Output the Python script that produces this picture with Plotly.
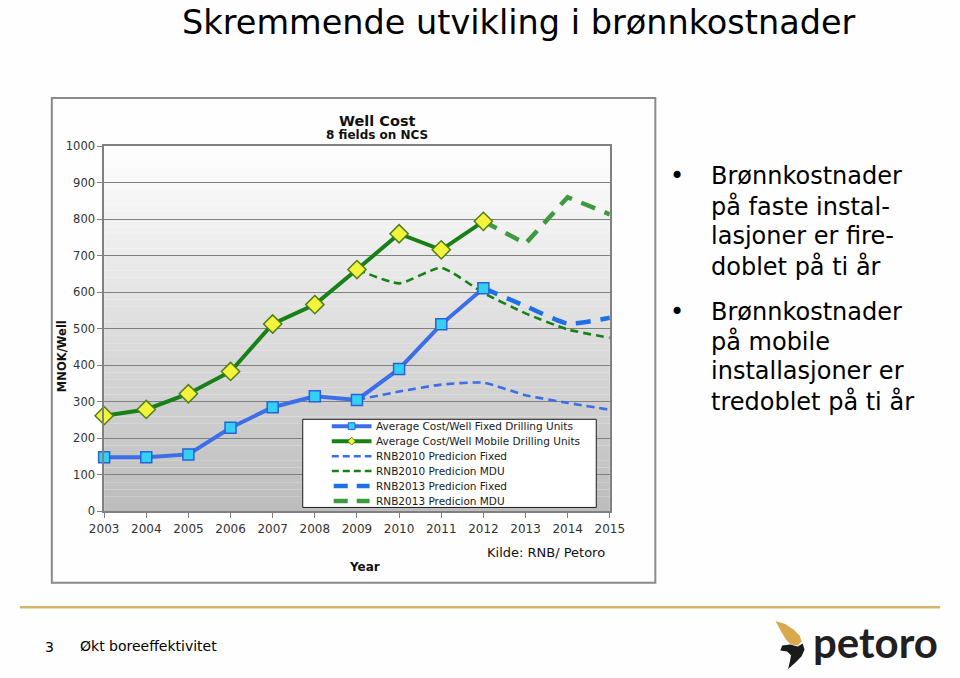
import plotly.graph_objects as go

# ---------------- data ----------------
years_actual = [2003, 2004, 2005, 2006, 2007, 2008, 2009, 2010, 2011, 2012]
fixed_actual = [148, 148, 156, 229, 285, 315, 305, 390, 512, 611]
mobile_actual = [262, 279, 322, 383, 513, 566, 662, 760, 716, 794]

years_rnb2010 = [2009, 2010, 2011, 2012, 2013, 2014, 2015]
rnb2010_fixed = [305, 328, 347, 352, 318, 297, 278]
rnb2010_mdu = [662, 624, 667, 598, 542, 498, 475]

years_rnb2013 = [2012, 2013, 2014, 2015]
rnb2013_fixed = [611, 562, 514, 530]
rnb2013_mdu = [794, 733, 860, 813]

x_ticks = list(range(2003, 2016))
y_ticks = list(range(0, 1001, 100))

series_names = [
    "Average Cost/Well Fixed Drilling Units",
    "Average Cost/Well Mobile Drilling Units",
    "RNB2010 Predicion Fixed",
    "RNB2010 Predicion MDU",
    "RNB2013 Predicion Fixed",
    "RNB2013 Predicion MDU",
]

bullets = [
    ["Brønnkostnader", "på faste instal-", "lasjoner er fire-", "doblet på ti år"],
    ["Brønnkostnader", "på mobile", "installasjoner er", "tredoblet på ti år"],
]

W, H = 960, 678
FONT = "DejaVu Sans, Verdana, sans-serif"

BLUE = "#3b6ee8"
BLUE2 = "#1f6fe6"
GREEN = "#178017"
GREEN2 = "#3d9a3d"
CYAN = "#33d0f5"
YELLOW = "#f4f43c"
BG = "#fefefe"


def px(x):
    return x / W


def py(y):
    return 1 - y / H


fig = go.Figure()

# prediction lines (behind actuals)
fig.add_trace(go.Scatter(x=years_rnb2010, y=rnb2010_fixed, mode="lines", name=series_names[2],
                         line=dict(color=BLUE, width=2.6, dash="8px,5px", shape="spline", smoothing=0.6),
                         cliponaxis=False, showlegend=False))
fig.add_trace(go.Scatter(x=years_rnb2010, y=rnb2010_mdu, mode="lines", name=series_names[3],
                         line=dict(color=GREEN, width=2.6, dash="8px,5px", shape="spline", smoothing=0.5),
                         cliponaxis=False, showlegend=False))
fig.add_trace(go.Scatter(x=years_rnb2013, y=rnb2013_fixed, mode="lines", name=series_names[4],
                         line=dict(color=BLUE2, width=4.5, dash="15px,10px", shape="spline", smoothing=0.5),
                         cliponaxis=False, showlegend=False))
fig.add_trace(go.Scatter(x=years_rnb2013, y=rnb2013_mdu, mode="lines", name=series_names[5],
                         line=dict(color=GREEN2, width=4.5, dash="15px,10px"),
                         cliponaxis=False, showlegend=False))

# actuals
fig.add_trace(go.Scatter(x=years_actual, y=fixed_actual, mode="lines+markers", name=series_names[0],
                         line=dict(color=BLUE, width=4),
                         marker=dict(symbol="square", size=11, color=CYAN, line=dict(color="#2a62d8", width=1.5)),
                         cliponaxis=False, showlegend=False))
fig.add_trace(go.Scatter(x=years_actual, y=mobile_actual, mode="lines+markers", name=series_names[1],
                         line=dict(color=GREEN, width=4),
                         marker=dict(symbol="diamond", size=14, color=YELLOW, line=dict(color="#4f7f1a", width=1.5)),
                         cliponaxis=False, showlegend=False))

shapes = []

# gradient plot background
n = 50
for i in range(n):
    v0 = 1000 * i / n
    v1 = 1000 * (i + 1) / n
    t = 1 - (v0 + v1) / 2 / 1000
    g = int(round(255 - (255 - 188) * t))
    shapes.append(dict(type="rect", xref="x domain", yref="y", x0=0, x1=1, y0=v0, y1=v1,
                       fillcolor=f"rgb({g},{g},{g})", line=dict(width=0), layer="below"))

# chart frame
shapes.append(dict(type="rect", xref="paper", yref="paper", x0=px(38), x1=px(661), y0=py(588), y1=py(93),
                   line=dict(color="#8a8a8a", width=2), fillcolor="rgba(0,0,0,0)", layer="below"))

# footer line
shapes.append(dict(type="line", xref="paper", yref="paper", x0=px(5), x1=px(955), y0=py(613), y1=py(613),
                   line=dict(color="#d6b46c", width=2.5)))

# legend box
lx0, lx1, ly0, ly1 = 297, 600, 421, 511
shapes.append(dict(type="rect", xref="paper", yref="paper", x0=px(lx0), x1=px(lx1), y0=py(ly1), y1=py(ly0),
                   line=dict(color="#1a1a1a", width=1), fillcolor="white", layer="above"))
rows = [428, 443.3, 458.6, 473.9, 489.2, 504.5]
sx0, sx1 = 327, 368
leg_styles = [
    dict(color=BLUE, width=4, dash="solid"),
    dict(color=GREEN, width=4, dash="solid"),
    dict(color=BLUE, width=2.5, dash="7px,4px"),
    dict(color=GREEN, width=2.5, dash="7px,4px"),
    dict(color=BLUE2, width=4.5, dash="14px,9px"),
    dict(color=GREEN2, width=4.5, dash="14px,9px"),
]
for r, st in zip(rows, leg_styles):
    xa, xb = (sx0, sx1) if st["width"] < 4.5 else (329, 366)
    shapes.append(dict(type="line", xref="paper", yref="paper", x0=px(xa), x1=px(xb), y0=py(r), y1=py(r),
                       line=st, layer="above"))
# legend marker glyphs
cx = 347.5
shapes.append(dict(type="rect", xref="paper", yref="paper", x0=px(cx - 3.5), x1=px(cx + 3.5),
                   y0=py(rows[0] + 3.5), y1=py(rows[0] - 3.5), fillcolor=CYAN,
                   line=dict(color="#2a62d8", width=1), layer="above"))
d = 4
dpath = "M {},{} L {},{} L {},{} L {},{} Z".format(
    px(cx), py(rows[1] - d), px(cx + d), py(rows[1]), px(cx), py(rows[1] + d), px(cx - d), py(rows[1]))
shapes.append(dict(type="path", xref="paper", yref="paper", path=dpath, fillcolor=YELLOW,
                   line=dict(color="#4f7f1a", width=1), layer="above"))


def poly(points):
    s = "M " + " L ".join(f"{px(a):.5f},{py(b):.5f}" for a, b in points) + " Z"
    return s


# petoro logo flame
gold = [(785, 627), (795, 630), (804, 636), (810, 642), (812, 648), (808, 652), (801, 651), (796, 646), (791, 638)]
black = [(792, 652), (800, 651), (808, 653), (813, 650), (815, 656), (812, 663), (806, 669), (798, 676),
         (800, 668), (801, 662), (797, 658), (790, 657)]
shapes.append(dict(type="path", xref="paper", yref="paper", path=poly(gold), fillcolor="#d9a94e",
                   line=dict(width=0)))
shapes.append(dict(type="path", xref="paper", yref="paper", path=poly(black), fillcolor="#1a1a1a",
                   line=dict(width=0)))

annotations = []


def text(x, y, s, size, xanchor="center", yanchor="middle", color="#000000", family=FONT, angle=0):
    annotations.append(dict(x=px(x), y=py(y), xref="paper", yref="paper", text=s, showarrow=False,
                            xanchor=xanchor, yanchor=yanchor, textangle=angle,
                            font=dict(size=size, color=color, family=family)))


# chart title
text(374, 116, "<b>Well Cost</b>", 14.5, color="#111111")
text(374, 131, "<b>8 fields on NCS</b>", 12, color="#111111")

# axis titles
text(48, 357, "<b>MNOK/Well</b>", 11.5, angle=-90, color="#111111")
text(361, 572, "<b>Year</b>", 12, color="#111111")

# source
text(485, 557, "Kilde: RNB/ Petoro", 13, xanchor="left", color="#111111")

# legend texts
for r, name in zip(rows, series_names):
    text(371, r, name, 10.5, xanchor="left", color="#1a1a1a")

# bullets
line_gap = 30.5
for start, lines in zip([173, 311], bullets):
    text(683, start, "•", 24)
    for k, ln in enumerate(lines):
        text(716, start + k * line_gap, ln, 24, xanchor="left")

# footer
text(36, 653, "3", 14)
text(65, 652, "Økt boreeffektivitet", 14, xanchor="left")
text(955, 648, "<b>petoro</b>", 42, xanchor="right", color="#231f20", family="Lato, Open Sans, sans-serif")

fig.update_layout(
    width=W, height=H, autosize=False,
    margin=dict(l=0, r=0, t=0, b=0),
    paper_bgcolor=BG, plot_bgcolor="white",
    showlegend=False,
    title=dict(text="Skremmende utvikling i brønnkostnader", x=px(520), xanchor="center", xref="paper",
               y=1, yref="paper", yanchor="top", pad=dict(t=4),
               font=dict(size=33.5, color="#000000", family=FONT)),
    shapes=shapes, annotations=annotations,
    xaxis=dict(domain=[px(92), px(614)], range=[2003, 2015], tickvals=x_ticks, tickformat="d",
               ticks="outside", ticklen=5, tickcolor="#808080", showline=True, linecolor="#808080",
               linewidth=1.5, mirror=True, showgrid=False, zeroline=False,
               tickfont=dict(size=12, color="#333333", family=FONT)),
    yaxis=dict(domain=[py(515), py(142)], range=[0, 1000], tickvals=y_ticks,
               ticks="outside", ticklen=5, tickcolor="#808080", showline=True, linecolor="#808080",
               linewidth=1.5, mirror=True, showgrid=True, gridcolor="#808080", gridwidth=1,
               zeroline=False, tickfont=dict(size=11.5, color="#333333", family=FONT)),
)

fig.write_html("out.html")
